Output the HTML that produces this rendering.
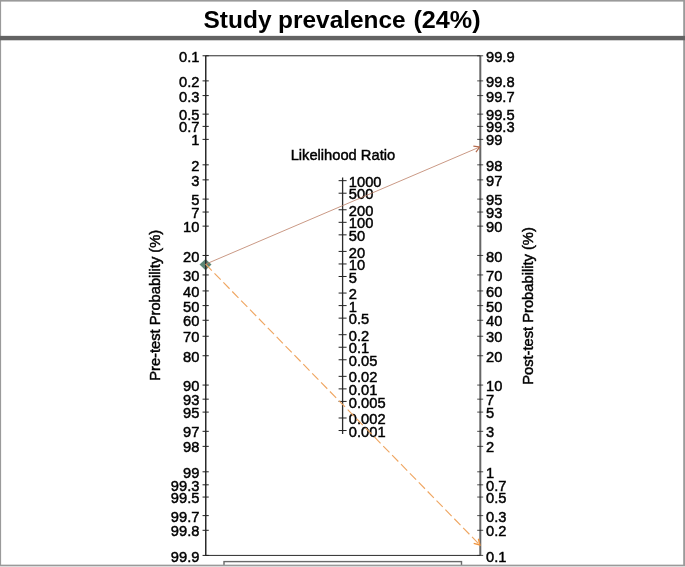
<!DOCTYPE html>
<html lang="en"><head><meta charset="utf-8"><title>Study prevalence (24%)</title>
<style>html,body{margin:0;padding:0;background:#fff;}body{width:685px;height:567px;overflow:hidden;}svg{display:block;}text{font-family:"Liberation Sans",Arial,Helvetica,sans-serif;fill:#000;}.lab{font-size:14.7px;stroke:#000;stroke-width:0.45px;}.title{font-size:23.9px;font-weight:bold;fill:#000;}</style></head><body>
<svg width="685" height="567" viewBox="0 0 685 567">
<rect x="0" y="0" width="685" height="567" fill="#fff"/>
<rect x="224.0" y="561.6" width="237.5" height="8" fill="#fff" stroke="#6a6a6a" stroke-width="1.4"/>
<rect x="0" y="0" width="685" height="1.6" fill="#9a9a9a"/>
<rect x="0" y="0" width="1.1" height="567" fill="#9a9a9a"/>
<rect x="683.2" y="0" width="1.8" height="567" fill="#9a9a9a"/>
<rect x="0" y="564.65" width="685" height="1.35" fill="#9a9a9a"/>
<rect x="0" y="566" width="685" height="1" fill="#dcdcdc"/>
<rect x="0" y="35.85" width="685" height="4.45" fill="#636363"/>
<text class="title" y="27.6"><tspan x="203.50" textLength="68.00" lengthAdjust="spacingAndGlyphs">Study</tspan><tspan x="271.30" textLength="134.40" lengthAdjust="spacingAndGlyphs"> prevalence</tspan><tspan x="406.40" textLength="74.20" lengthAdjust="spacingAndGlyphs"> (24%)</tspan></text>
<path d="M205.50 259.00l6 5.6l-6 5.6l-6 -5.6z" fill="#5b8676"/>
<g stroke="#2b2b2b" fill="none">
<line x1="205.75" y1="55.78" x2="205.75" y2="555.42" stroke-width="1.5"/>
<line x1="205.75" y1="55.78" x2="480.30" y2="55.78" stroke-width="1"/>
<line x1="205.75" y1="555.42" x2="480.30" y2="555.42" stroke-width="1"/>
<line x1="342.60" y1="177.40" x2="342.60" y2="434.00" stroke-width="1.3"/>
</g>
<line x1="480.30" y1="55.78" x2="480.30" y2="555.42" stroke="#666" stroke-width="2"/>
<path d="M202.55 55.78H208.75M202.55 80.89H208.75M202.55 95.59H208.75M202.55 114.14H208.75M202.55 126.38H208.75M202.55 139.39H208.75M202.55 164.83H208.75M202.55 179.87H208.75M202.55 199.10H208.75M202.55 212.04H208.75M202.55 226.13H208.75M202.55 255.46H208.75M202.55 274.95H208.75M202.55 290.93H208.75M202.55 305.60H208.75M202.55 320.27H208.75M202.55 336.25H208.75M202.55 355.74H208.75M202.55 385.07H208.75M202.55 399.16H208.75M202.55 412.10H208.75M202.55 431.33H208.75M202.55 446.37H208.75M202.55 471.81H208.75M202.55 484.82H208.75M202.55 497.06H208.75M202.55 515.61H208.75M202.55 530.31H208.75M202.55 555.42H208.75M338.60 180.67H346.60M338.60 193.21H346.60M338.60 209.78H346.60M338.60 222.32H346.60M338.60 234.85H346.60M338.60 251.42H346.60M338.60 263.96H346.60M338.60 276.49H346.60M338.60 293.06H346.60M338.60 305.60H346.60M338.60 318.14H346.60M338.60 334.71H346.60M338.60 347.24H346.60M338.60 359.78H346.60M338.60 376.35H346.60M338.60 388.88H346.60M338.60 401.42H346.60M338.60 417.99H346.60M338.60 430.53H346.60" stroke="#222" stroke-width="1" fill="none"/>
<path d="M477.20 555.42H483.20M477.20 530.31H483.20M477.20 515.61H483.20M477.20 497.06H483.20M477.20 484.82H483.20M477.20 471.81H483.20M477.20 446.37H483.20M477.20 431.33H483.20M477.20 412.10H483.20M477.20 399.16H483.20M477.20 385.07H483.20M477.20 355.74H483.20M477.20 336.25H483.20M477.20 320.27H483.20M477.20 305.60H483.20M477.20 290.93H483.20M477.20 274.95H483.20M477.20 255.46H483.20M477.20 226.13H483.20M477.20 212.04H483.20M477.20 199.10H483.20M477.20 179.87H483.20M477.20 164.83H483.20M477.20 139.39H483.20M477.20 126.38H483.20M477.20 114.14H483.20M477.20 95.59H483.20M477.20 80.89H483.20M477.20 55.78H483.20" stroke="#222" stroke-width="0.8" fill="none"/>
<g><text class="lab" x="199.40" y="61.88" text-anchor="end">0.1</text>
<text class="lab" x="486.00" y="561.52">0.1</text>
<text class="lab" x="199.40" y="86.99" text-anchor="end">0.2</text>
<text class="lab" x="486.00" y="536.41">0.2</text>
<text class="lab" x="199.40" y="101.69" text-anchor="end">0.3</text>
<text class="lab" x="486.00" y="521.71">0.3</text>
<text class="lab" x="199.40" y="120.24" text-anchor="end">0.5</text>
<text class="lab" x="486.00" y="503.16">0.5</text>
<text class="lab" x="199.40" y="132.48" text-anchor="end">0.7</text>
<text class="lab" x="486.00" y="490.92">0.7</text>
<text class="lab" x="199.40" y="145.49" text-anchor="end">1</text>
<text class="lab" x="486.00" y="477.91">1</text>
<text class="lab" x="199.40" y="170.93" text-anchor="end">2</text>
<text class="lab" x="486.00" y="452.47">2</text>
<text class="lab" x="199.40" y="185.97" text-anchor="end">3</text>
<text class="lab" x="486.00" y="437.43">3</text>
<text class="lab" x="199.40" y="205.20" text-anchor="end">5</text>
<text class="lab" x="486.00" y="418.20">5</text>
<text class="lab" x="199.40" y="218.14" text-anchor="end">7</text>
<text class="lab" x="486.00" y="405.26">7</text>
<text class="lab" x="199.40" y="232.23" text-anchor="end">10</text>
<text class="lab" x="486.00" y="391.17">10</text>
<text class="lab" x="199.40" y="261.56" text-anchor="end">20</text>
<text class="lab" x="486.00" y="361.84">20</text>
<text class="lab" x="199.40" y="281.05" text-anchor="end">30</text>
<text class="lab" x="486.00" y="342.35">30</text>
<text class="lab" x="199.40" y="297.03" text-anchor="end">40</text>
<text class="lab" x="486.00" y="326.37">40</text>
<text class="lab" x="199.40" y="311.70" text-anchor="end">50</text>
<text class="lab" x="486.00" y="311.70">50</text>
<text class="lab" x="199.40" y="326.37" text-anchor="end">60</text>
<text class="lab" x="486.00" y="297.03">60</text>
<text class="lab" x="199.40" y="342.35" text-anchor="end">70</text>
<text class="lab" x="486.00" y="281.05">70</text>
<text class="lab" x="199.40" y="361.84" text-anchor="end">80</text>
<text class="lab" x="486.00" y="261.56">80</text>
<text class="lab" x="199.40" y="391.17" text-anchor="end">90</text>
<text class="lab" x="486.00" y="232.23">90</text>
<text class="lab" x="199.40" y="405.26" text-anchor="end">93</text>
<text class="lab" x="486.00" y="218.14">93</text>
<text class="lab" x="199.40" y="418.20" text-anchor="end">95</text>
<text class="lab" x="486.00" y="205.20">95</text>
<text class="lab" x="199.40" y="437.43" text-anchor="end">97</text>
<text class="lab" x="486.00" y="185.97">97</text>
<text class="lab" x="199.40" y="452.47" text-anchor="end">98</text>
<text class="lab" x="486.00" y="170.93">98</text>
<text class="lab" x="199.40" y="477.91" text-anchor="end">99</text>
<text class="lab" x="486.00" y="145.49">99</text>
<text class="lab" x="199.40" y="490.92" text-anchor="end">99.3</text>
<text class="lab" x="486.00" y="132.48">99.3</text>
<text class="lab" x="199.40" y="503.16" text-anchor="end">99.5</text>
<text class="lab" x="486.00" y="120.24">99.5</text>
<text class="lab" x="199.40" y="521.71" text-anchor="end">99.7</text>
<text class="lab" x="486.00" y="101.69">99.7</text>
<text class="lab" x="199.40" y="536.41" text-anchor="end">99.8</text>
<text class="lab" x="486.00" y="86.99">99.8</text>
<text class="lab" x="199.40" y="561.52" text-anchor="end">99.9</text>
<text class="lab" x="486.00" y="61.88">99.9</text>
<text class="lab" x="348.80" y="186.77">1000</text>
<text class="lab" x="348.80" y="199.31">500</text>
<text class="lab" x="348.80" y="215.88">200</text>
<text class="lab" x="348.80" y="228.42">100</text>
<text class="lab" x="348.80" y="240.95">50</text>
<text class="lab" x="348.80" y="257.52">20</text>
<text class="lab" x="348.80" y="270.06">10</text>
<text class="lab" x="348.80" y="282.59">5</text>
<text class="lab" x="348.80" y="299.16">2</text>
<text class="lab" x="348.80" y="311.70">1</text>
<text class="lab" x="348.80" y="324.24">0.5</text>
<text class="lab" x="348.80" y="340.81">0.2</text>
<text class="lab" x="348.80" y="353.34">0.1</text>
<text class="lab" x="348.80" y="365.88">0.05</text>
<text class="lab" x="348.80" y="382.45">0.02</text>
<text class="lab" x="348.80" y="394.98">0.01</text>
<text class="lab" x="348.80" y="407.52">0.005</text>
<text class="lab" x="348.80" y="424.09">0.002</text>
<text class="lab" x="348.80" y="436.63">0.001</text></g>
<text class="lab" x="342.9" y="159.5" text-anchor="middle">Likelihood Ratio</text>
<text class="lab" transform="translate(159.8 305.3) rotate(-90)" text-anchor="middle">Pre-test Probability (%)</text>
<text class="lab" transform="translate(533.3 306) rotate(-90)" text-anchor="middle">Post-test Probability (%)</text>
<line x1="205.60" y1="264.20" x2="479.70" y2="147.00" stroke="#bc7f66" stroke-width="0.8"/>
<path d="M475.95 152.19L479.70 147.00L473.36 146.13" stroke="#b46a4c" stroke-width="1.2" fill="none"/>
<line x1="205.60" y1="264.20" x2="479.90" y2="545.00" stroke="#efa662" stroke-width="1.15" stroke-dasharray="8.9 3.81" stroke-dashoffset="0"/>
<path d="M473.71 543.38L479.90 545.00L478.42 538.77" stroke="#ef9540" stroke-width="1.4" fill="none"/>
</svg></body></html>
